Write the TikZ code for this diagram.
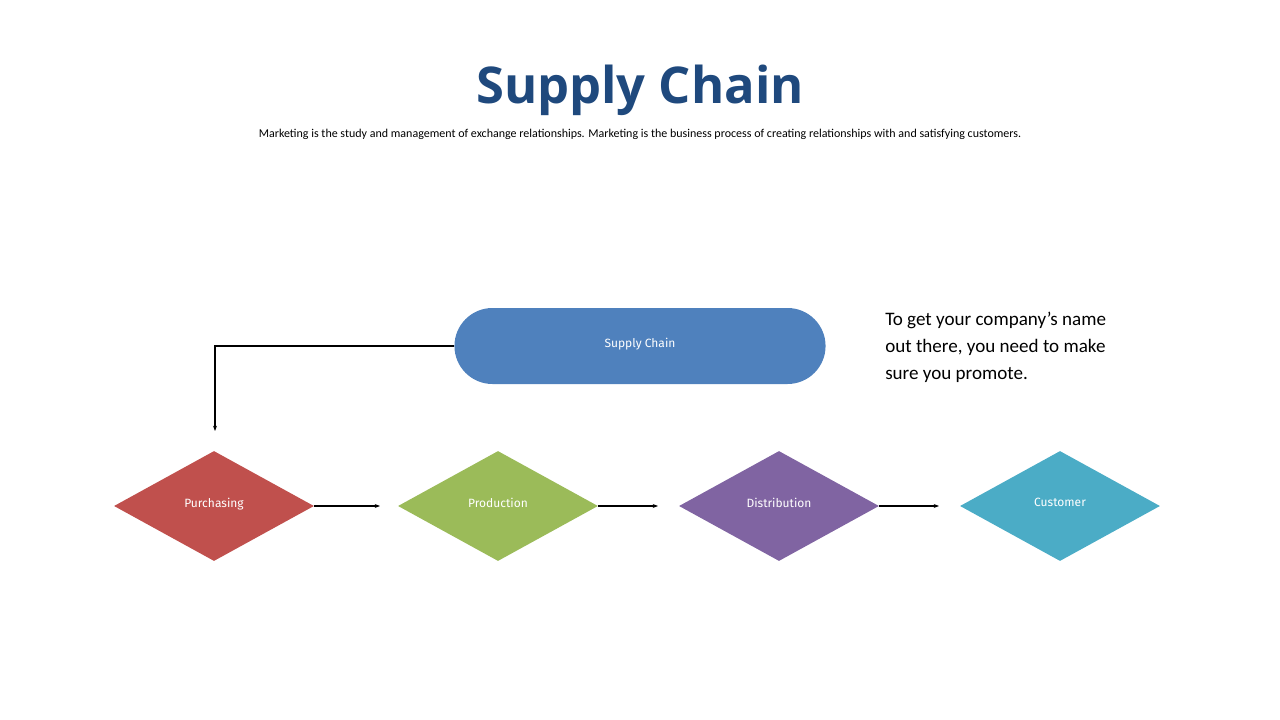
\documentclass[tikz,border=0pt]{standalone}
\usepackage{fontspec}
\setmainfont{Carlito}
\newfontfamily\lab{Fira Sans}
\newfontfamily\ttl{Open Sans}
\usetikzlibrary{shapes.geometric,shapes.misc,arrows.meta}
\definecolor{titleblue}{RGB}{31,73,125}
\definecolor{pill}{RGB}{79,129,189}
\definecolor{cred}{RGB}{192,80,77}
\definecolor{cgreen}{RGB}{155,187,89}
\definecolor{cpurple}{RGB}{128,100,162}
\definecolor{ccyan}{RGB}{75,172,198}
\begin{document}
\begin{tikzpicture}[x=0.75pt,y=-0.75pt,
  dia/.style={diamond,aspect=1.818,minimum width=150pt,minimum height=82.5pt,inner sep=0pt,draw=none,text=white,font=\lab\fontsize{9}{11}\selectfont},
  conn/.style={-{Stealth[length=4pt,width=3pt]},line width=1.2pt}]
\useasboundingbox (0,0) rectangle (1280,720);
\node (title) at (640,90) {\ttl\fontsize{38}{44}\selectfont\bfseries\color{titleblue}Supply Chain};
\node (sub) at (640,134) {\fontsize{9}{11}\selectfont Marketing is the study and management of exchange relationships. Marketing is the business process of creating relationships with and satisfying customers.};
\node (sc) [rounded rectangle,fill=pill,minimum width=285pt,minimum height=57pt,text=white,font=\lab\fontsize{9}{11}\selectfont] at (640,346) {\raisebox{5pt}{Supply Chain}};
\node (pur) [dia,fill=cred] at (214,506) {\raisebox{5pt}{Purchasing}};
\node (pro) [dia,fill=cgreen] at (498,506) {\raisebox{5pt}{Production}};
\node (dis) [dia,fill=cpurple] at (779,506) {\raisebox{5pt}{Distribution}};
\node (cus) [dia,fill=ccyan] at (1060,506) {\raisebox{5pt}{Customer}};
\node (txt) [anchor=north west,align=left,font=\fontsize{14.3}{20.3}\selectfont,inner sep=0pt] at (885,312) {To get your company’s name\\out there, you need to make\\sure you promote.};
\coordinate (e1) at (380,506);
\coordinate (e2) at (658,506);
\coordinate (e3) at (939,506);
\coordinate (e0) at (215,431);
\draw[conn] (pur.east) -- (e1);
\draw[conn] (pro.east) -- (e2);
\draw[conn] (dis.east) -- (e3);
\draw[conn] (sc.west) -| (e0);
\end{tikzpicture}
\end{document}
